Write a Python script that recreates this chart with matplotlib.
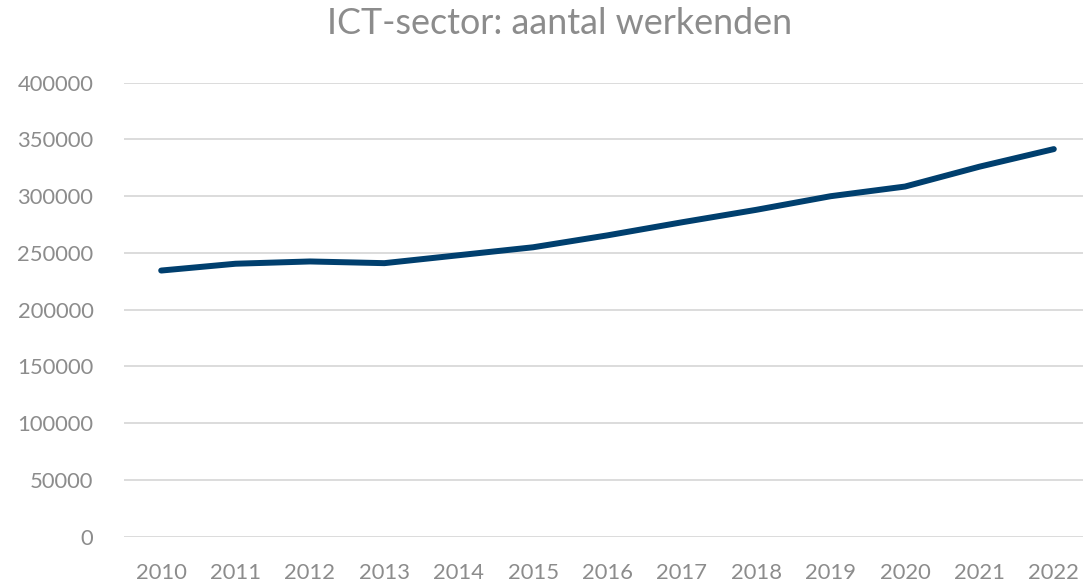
import matplotlib
matplotlib.use("Agg")
from matplotlib import pyplot as plt

years = ["2010", "2011", "2012", "2013", "2014", "2015", "2016",
         "2017", "2018", "2019", "2020", "2021", "2022"]
werkenden = [234500, 240500, 242500, 241000, 248000, 255000, 265500,
             277000, 288000, 300000, 308500, 326000, 341500]
y_ticks = [0, 50000, 100000, 150000, 200000, 250000, 300000, 350000, 400000]

plt.rcParams['font.family'] = ['Lato', 'DejaVu Sans']
grey = "#8c8c8c"

fig = plt.figure(figsize=(10.83, 5.81), dpi=100)
# axes extends a bit past the right edge, like the original
ax = fig.add_axes([124/1083, 44.3/581, 967/1083, 454/581])

x = range(len(years))
ax.plot(x, werkenden, color="#003f6e", linewidth=4.3, solid_capstyle="round")

ax.set_xlim(-0.5, len(years) - 0.5)
ax.set_ylim(0, 400000)
ax.set_xticks(list(x))
ax.set_xticklabels(years)
ax.set_yticks(y_ticks)
ax.set_yticklabels([str(v) for v in y_ticks])
ax.tick_params(axis="both", length=0, labelsize=15.8, labelcolor=grey)
ax.tick_params(axis="x", pad=19)
ax.tick_params(axis="y", pad=22)

ax.grid(axis="y", color="#d9d9d9", linewidth=1.3)
ax.set_axisbelow(True)
for s in ax.spines.values():
    s.set_visible(False)

fig.text(560/1083, 1 - 24/581, "ICT-sector: aantal werkenden", ha="center",
         va="center", fontsize=25.8, color=grey)

fig.savefig("out.png", dpi=100)
